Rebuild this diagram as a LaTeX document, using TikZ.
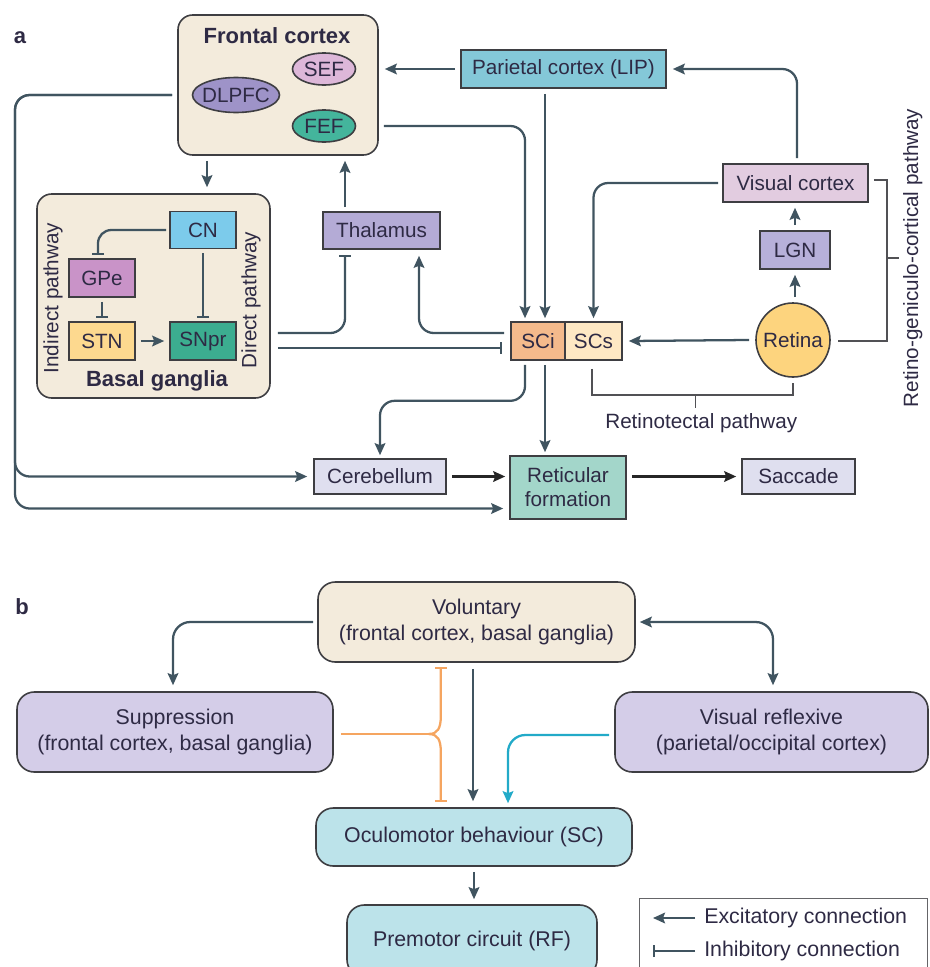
\documentclass[tikz,border=0pt]{standalone}
\usepackage{fontspec}
\setmainfont{Liberation Sans}
\usetikzlibrary{arrows.meta,calc,shapes.geometric}

\definecolor{lnC}{RGB}{64,84,96}
\definecolor{bdC}{RGB}{62,62,66}
\definecolor{txC}{RGB}{46,42,68}
\definecolor{bgC}{HTML}{F3EBDC}
\definecolor{sefC}{HTML}{DDB7D9}
\definecolor{dlC}{HTML}{9E93C8}
\definecolor{fefC}{HTML}{44B59C}
\definecolor{cnC}{HTML}{7CCBEB}
\definecolor{gpeC}{HTML}{C993C8}
\definecolor{stnC}{HTML}{FDD98F}
\definecolor{snpC}{HTML}{3CAD90}
\definecolor{thC}{HTML}{B4ABD6}
\definecolor{parC}{HTML}{84C8D8}
\definecolor{visC}{HTML}{E2CCE0}
\definecolor{lgnC}{HTML}{B7B0DA}
\definecolor{retC}{HTML}{FDD47E}
\definecolor{sciC}{HTML}{F4BA8C}
\definecolor{scsC}{HTML}{FEE8C4}
\definecolor{cerC}{HTML}{DFDFEF}
\definecolor{rfC}{HTML}{A3D6CA}
\definecolor{supC}{HTML}{D4CDE8}
\definecolor{ocuC}{HTML}{BCE3EA}
\definecolor{orC}{HTML}{F5A560}
\definecolor{cyC}{HTML}{22AAC8}

\tikzset{
  wh/.style 2 args={minimum width=#1*0.75pt,minimum height=#2*0.75pt},
  box/.style={draw=bdC,line width=1.2pt,text=txC,inner sep=0pt,align=center,
    font=\fontsize{15.5}{18}\selectfont},
  rbox/.style={box,rounded corners=11pt},
  rboxb/.style={box,rounded corners=13pt,font=\fontsize{16}{19.5}\selectfont},
  oval/.style={box,ellipse,inner xsep=-5pt},
  lbl/.style={text=txC,inner sep=0pt,font=\fontsize{15.5}{18}\selectfont},
  lblb/.style={lbl,font=\fontsize{16}{19.5}\selectfont},
  ttl/.style={text=txC,inner sep=0pt,font=\fontsize{16.5}{19}\selectfont\bfseries},
  exc/.style={draw=lnC,line width=1.7pt,-{Stealth[length=9pt,width=8pt,inset=1.5pt]}},
  excd/.style={exc,draw=black!85,line width=2pt},
  exctwo/.style={exc,{Stealth[length=9pt,width=8pt,inset=1.5pt]}-{Stealth[length=9pt,width=8pt,inset=1.5pt]}},
  inh/.style={draw=lnC,line width=1.7pt,-{Bar[width=9pt]}},
  orl/.style={draw=orC,line width=1.7pt},
  inhor/.style={orl,-{Bar[width=9pt]}},
  excc/.style={exc,draw=cyC},
  brk/.style={draw=bdC!90,line width=1.1pt},
}

\begin{document}
\begin{tikzpicture}[x=0.75pt,y=0.75pt,yscale=-1]
\clip (0,0) rectangle (929,967);

% Panel labels
\node[ttl] (pa) at (20,38) {a};
\node[ttl] (pb) at (22,607) {b};

%Shape: Frontal cortex
\node[rbox,fill=bgC,wh={200}{140}] (fc) at (278,85) {};
\node[ttl] (fct) at (277,36) {Frontal cortex};
\node[oval,fill=sefC,wh={63}{32}] (sef) at (324,69) {SEF};
\node[oval,fill=dlC,wh={87}{35}] (dl) at (236,95) {DLPFC};
\node[oval,fill=fefC,wh={63}{32}] (fef) at (324,126) {FEF};

%Shape: Basal ganglia
\node[rbox,fill=bgC,wh={233}{204}] (bg) at (153.5,296) {};
\node[box,fill=cnC,wh={66}{37}] (cn) at (203,230) {CN};
\node[box,fill=gpeC,wh={66}{38}] (gpe) at (102,278) {GPe};
\node[box,fill=stnC,wh={66}{38}] (stn) at (102,341) {STN};
\node[box,fill=snpC,wh={66}{38}] (snpr) at (203,341) {SNpr};
\node[ttl] (bgt) at (157,381) {Basal ganglia};
\node[lbl,rotate=90] (ip) at (53,298) {Indirect pathway};
\node[lbl,rotate=90] (dp) at (251,300) {Direct pathway};

%Shape: other areas
\node[box,fill=thC,wh={117}{37}] (th) at (381.5,230.5) {Thalamus};
\node[box,fill=parC,wh={205}{38}] (par) at (563.5,69) {Parietal cortex (LIP)};
\node[box,fill=visC,wh={145}{38}] (vis) at (795.5,183) {Visual cortex};
\node[box,fill=lgnC,wh={70}{38}] (lgn) at (795,250) {LGN};
\node[box,circle,fill=retC,minimum size=74*0.75pt] (ret) at (793,340) {Retina};
\node[box,fill=sciC,wh={54}{38}] (sci) at (538,341) {SCi};
\node[box,fill=scsC,wh={57}{38}] (scs) at (593.5,341) {SCs};
\node[box,fill=cerC,wh={132}{35}] (cer) at (380,476.5) {Cerebellum};
\node[box,fill=rfC,wh={116}{63}] (rf) at (568,487.5) {Reticular\\formation};
\node[box,fill=cerC,wh={113}{35}] (sac) at (798.5,476.5) {Saccade};

% Connections inside basal ganglia
\draw[inh,rounded corners=10pt] ($(cn.west)+(-3,0)$) -| ($(gpe.north)+(-4,-3)$);
\draw[inh] ($(gpe.south)+(0,4)$) -- ($(stn.north)+(0,-3)$);
\draw[inh] ($(cn.south)+(0,4)$) -- ($(snpr.north)+(0,-3)$);
\draw[exc] ($(stn.east)+(5,0)$) -- ($(snpr.west)+(-5,0)$);

% Connections of panel a
\draw[exc] ($(par.west)+(-5,0)$) -- ($(fc.east |- par.west)+(6,0)$);
\draw[exc,rounded corners=11pt] ($(vis.north)+(1.5,-5)$) |- ($(par.east)+(6,0)$);
\draw[exc] ($(par.south -| sci.north)+(7,5)$) -- ($(sci.north)+(7,-3)$);
\draw[exc,rounded corners=11pt] ($(fc.east |- fef)+(5,0)$) -| ($(sci.north)+(-13,-3)$);
\draw[exc] ($(fc.south -| cn)+(4,5)$) -- ($(bg.north -| cn)+(4,-6)$);
\draw[exc] ($(th.north)+(-36.5,-4)$) -- ($(th.north |- fc.south)+(-36.5,5)$);
\draw[inh,rounded corners=11pt] ($(bg.east |- snpr)+(7,-8)$) -| ($(th.south)+(-36.5,5)$);
\draw[inh] ($(bg.east |- snpr)+(7,7)$) -- ($(sci.west |- snpr)+(-8,7)$);
\draw[exc,rounded corners=11pt] ($(sci.west)+(-6,-8)$) -| ($(th.south)+(37.5,6)$);
\draw[exc,rounded corners=11pt] ($(vis.west)+(-4,0)$) -| ($(scs.north)+(0,-3)$);
\draw[exc] ($(lgn.north)+(0,-5)$) -- ($(lgn.north |- vis.south)+(0,5)$);
\draw[exc] ($(ret.north -| lgn)+(0,-5)$) -- ($(lgn.south)+(0,5)$);
\draw[exc] ($(ret.west)+(-6,0)$) -- ($(scs.east)+(6,0)$);
\draw[exc,rounded corners=11pt] ($(sci.south)+(-13,4)$) -- ($(sci.south)+(-13,40)$) -| ($(cer.north)+(0,-3)$);
\draw[exc] ($(sci.south)+(7,4)$) -- ($(sci.south |- rf.north)+(7,-3)$);
\coordinate (lx) at (15,0);
\draw[exc,rounded corners=11pt] ($(fc.west |- dl)+(-5,0)$) -| (lx |- cer.west) -- ($(cer.west)+(-6,0)$);
\draw[exc,rounded corners=11pt] ($(fc.west |- dl)+(-5,0)$) -| ($(lx |- rf.west)+(0,21)$) -- ($(rf.west)+(-6,21)$);
\draw[excd] ($(cer.east)+(5,0)$) -- ($(rf.west |- cer)+(-4,0)$);
\draw[excd] ($(rf.east |- sac)+(5,0)$) -- ($(sac.west)+(-5,0)$);

% Pathway brackets
\draw[brk] ($(scs.south)+(-1.5,8)$) -- ($(scs.south)+(-1.5,34)$) -| ($(ret.south)+(0,5)$);
\coordinate (rtm) at ($(scs.south)!0.5!(scs.south -| ret)+(2,34)$);
\draw[brk] (rtm) -- ++(0,13);
\node[lbl,anchor=north] (rtl) at ($(rtm)+(6,18)$) {Retinotectal pathway};
\draw[brk] ($(vis.east)+(5,-3)$) -- ($(vis.east)+(18,-3)$) |- ($(ret.east)+(7,1)$);
\coordinate (rgm) at ($(vis.east |- lgn)+(18,8)$);
\draw[brk] (rgm) -- ++(12,0);
\node[lbl,rotate=90,anchor=north] (rgl) at ($(rgm)+(16,0)$) {Retino-geniculo-cortical pathway};

%Shape: panel b boxes
\node[rboxb,fill=bgC,wh={317}{80}] (vol) at (476.5,622) {Voluntary\\(frontal cortex, basal ganglia)};
\node[rboxb,fill=supC,wh={316}{80}] (sup) at (175,732) {Suppression\\(frontal cortex, basal ganglia)};
\node[rboxb,fill=supC,wh={313}{80}] (vr) at (771.5,732) {Visual reflexive\\(parietal/occipital cortex)};
\node[rboxb,fill=ocuC,wh={316}{58}] (ocu) at (474,837) {Oculomotor behaviour (SC)};
\node[rboxb,fill=ocuC,wh={250}{72}] (pre) at (472,941) {Premotor circuit (RF)};

% Connections of panel b
\draw[exc,rounded corners=13pt] ($(vol.west)+(-4,0)$) -| ($(sup.north)+(-2,-6)$);
\draw[exctwo,rounded corners=13pt] ($(vol.east)+(4,0)$) -| ($(vr.north)+(1.5,-6)$);
\draw[exc] ($(vol.south)+(-3.5,6)$) -- ($(vol.south |- ocu.north)+(-3.5,-6)$);
\coordinate (brc) at ($(sup.east)+(95,2)$);
\draw[orl] ($(sup.east)+(7,2)$) -- (brc);
\draw[inhor] (brc) .. controls ($(brc)+(9,0)$) and ($(brc)+(12,-6)$) .. ($(brc)+(12,-18)$) -- ($(vol.south -| brc)+(12,4)$);
\draw[inhor] (brc) .. controls ($(brc)+(9,0)$) and ($(brc)+(12,6)$) .. ($(brc)+(12,18)$) -- ($(ocu.north -| brc)+(12,-5)$);
\draw[excc,rounded corners=13pt] ($(vr.west)+(-5,3)$) -| ($(ocu.north)+(34,-4)$);
\draw[exc] ($(ocu.south)+(0,5)$) -- ($(ocu.south |- pre.north)+(0,-5)$);

% Legend
\node[draw=bdC!80,line width=1pt,anchor=north west,wh={288}{100}] (leg) at (639,898) {};
\node[lblb,anchor=west] (lex) at (704,918) {Excitatory connection};
\node[lblb,anchor=west] (lin) at (704,951) {Inhibitory connection};
\draw[exc] ($(lex.west)+(-9,0)$) -- ($(lex.west)+(-51,0)$);
\draw[inh] ($(lin.west)+(-9,0)$) -- ($(lin.west)+(-51,0)$);

\end{tikzpicture}
\end{document}
